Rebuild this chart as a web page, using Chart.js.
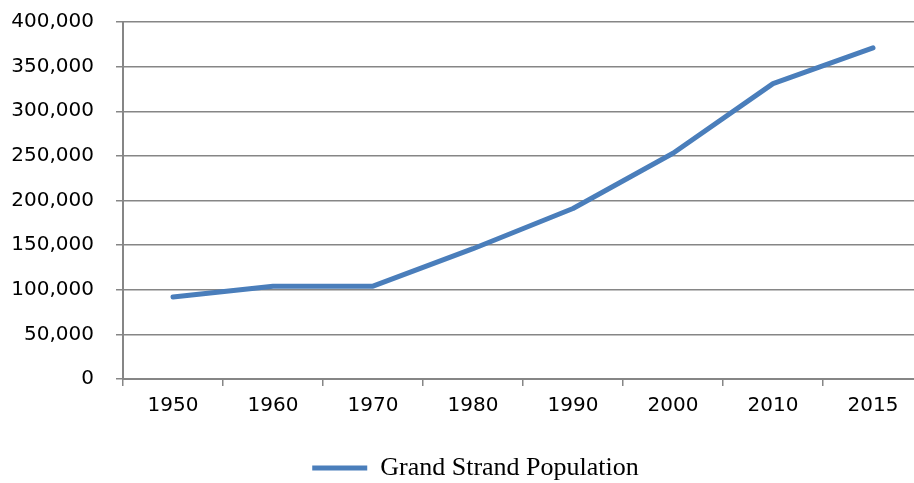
<!DOCTYPE html>
<html>
<head>
<meta charset="utf-8">
<script src="https://cdn.jsdelivr.net/npm/chart.js@4/dist/chart.umd.min.js"></script>
<style>
    html, body { margin: 0; padding: 0; background: #fff; overflow: hidden; }
    #grafico { display: block; }
</style>
</head>
<body>
<!-- el original corta el grafico por la derecha: el lienzo es un poco mas ancho que la ventana -->
<canvas id="grafico" width="923" height="483"></canvas>
<script>
const anios = ['1950', '1960', '1970', '1980', '1990', '2000', '2010', '2015'];
const poblacion = [92000, 104000, 104000, 146000, 191000, 253000, 331000, 371000];
const serieNombre = 'Grand Strand Population';

// la leyenda del original no esta centrada en el lienzo, se corre a la derecha
const moverLeyenda = {
    id: 'moverLeyenda',
    afterLayout(chart) {
        const leyenda = chart.legend;
        if (!leyenda) return;
        leyenda.left += 14;
        leyenda.right += 14;
    }
};

iniciarGrafico();

function iniciarGrafico() {
    const ctx = document.getElementById('grafico');
    const gris = '#868686';

    new Chart(ctx, {
        type: 'line',
        data: {
            labels: anios,
            datasets: [{
                label: serieNombre,
                data: poblacion,
                borderColor: '#4a7ebb',
                backgroundColor: '#4a7ebb',
                borderWidth: 5,
                borderCapStyle: 'round',
                borderJoinStyle: 'round',
                pointRadius: 0,
                tension: 0
            }]
        },
        plugins: [moverLeyenda],
        options: {
            responsive: false,
            animation: false,
            layout: {
                padding: {left: 0, right: 0, top: 22, bottom: -8}
            },
            plugins: {
                tooltip: {enabled: false},
                legend: {
                    position: 'bottom',
                    labels: {
                        usePointStyle: true,
                        pointStyle: 'line',
                        pointStyleWidth: 55,
                        color: '#000',
                        font: {family: '"Liberation Serif", "Times New Roman", serif', size: 26}
                    }
                }
            },
            scales: {
                x: {
                    offset: true,
                    afterFit: (scale) => {
                        scale.height += 19;
                        scale.paddingLeft = 0;
                        scale.paddingRight = 0;
                    },
                    grid: {
                        offset: true,
                        drawOnChartArea: false,
                        drawTicks: true,
                        tickLength: 7,
                        color: gris,
                        lineWidth: 1.5
                    },
                    border: {color: gris, width: 2},
                    ticks: {
                        color: '#000',
                        padding: 8,
                        maxRotation: 0,
                        font: {family: '"DejaVu Sans", sans-serif', size: 20}
                    }
                },
                y: {
                    min: 0,
                    max: 400000,
                    afterFit: (scale) => {
                        scale.width = 123;
                        scale.paddingTop = 0;
                    },
                    grid: {
                        color: gris,
                        lineWidth: 1.5,
                        tickLength: 7
                    },
                    border: {color: gris, width: 2},
                    ticks: {
                        stepSize: 50000,
                        color: '#000',
                        padding: 22,
                        font: {family: '"DejaVu Sans", sans-serif', size: 20},
                        callback: (v) => v.toLocaleString('en-US')
                    }
                }
            }
        }
    });
}
</script>
</body>
</html>
